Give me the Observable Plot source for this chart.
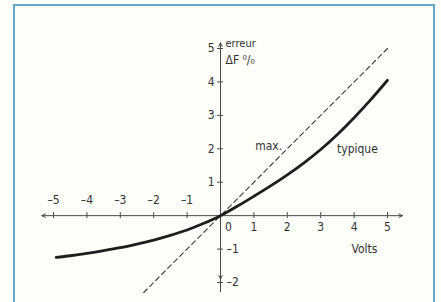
<!DOCTYPE html>
<html>
<head>
<meta charset="utf-8">
<script src="https://cdn.jsdelivr.net/npm/d3@7"></script>
<script src="https://cdn.jsdelivr.net/npm/@observablehq/plot@0.6"></script>
<style>
  html, body { margin: 0; padding: 0; background: #fdfdfa; }
  #wrap { position: relative; width: 441px; height: 302px; overflow: hidden; }
  #frame { position: absolute; left: 13px; top: 4px; width: 418px; height: 320px;
           border: 2px solid #62a9c9; pointer-events: none; }
</style>
</head>
<body>
<div id="wrap"><div id="frame"></div></div>
<script>
// Typical error curve (Volts -> error %)
const typVolts = [-4.92, -4.5, -4, -3.5, -3, -2.5, -2, -1.5, -1, -0.5, 0, 0.5, 1, 1.5, 2, 2.5, 3, 3.5, 4, 4.5, 5];
const typError = [-1.25, -1.2, -1.13, -1.05, -0.96, -0.85, -0.73, -0.59, -0.43, -0.23, 0, 0.28, 0.58, 0.89, 1.22, 1.58, 1.98, 2.43, 2.93, 3.47, 4.05];
// Maximum error line
const maxVolts = [-2.3, 5];
const maxError = [-2.3, 5];
// Tick values
const xTicksNeg = [-5, -4, -3, -2, -1];
const xTicksPos = [1, 2, 3, 4, 5];
const yTicksPos = [1, 2, 3, 4, 5];
const yTicksNeg = [-1, -2];

const typ = typVolts.map((v, i) => ({v, e: typError[i]}));
const mx = maxVolts.map((v, i) => ({v, e: maxError[i]}));

const font = '"Liberation Sans Narrow", "DejaVu Sans Condensed", "Roboto", sans-serif';
const ink = "#333333";
const axisC = "#4a4a4a";

const chart = Plot.plot({
  width: 441,
  height: 302,
  marginLeft: 53,
  marginRight: 54,
  marginTop: 48,
  marginBottom: 20,
  x: {domain: [-5, 5], axis: null},
  y: {domain: [-2, 5], axis: null},
  style: {background: "transparent", fontFamily: font, fontSize: "12px", color: ink},
  marks: [
    // axes with arrowheads
    Plot.arrow([{a: 0, b: 5.45}, {a: 0, b: -5.35}], {x1: "a", x2: "b", y1: 0, y2: 0, stroke: axisC, strokeWidth: 1, headLength: 6, headAngle: 50}),
    Plot.arrow([{a: 0, b: 5.17}], {x1: 0, x2: 0, y1: "a", y2: "b", stroke: axisC, strokeWidth: 1, headLength: 6, headAngle: 50}),
    Plot.arrow([{a: 0, b: -1.9}], {x1: 0, x2: 0, y1: "a", y2: "b", stroke: axisC, strokeWidth: 1, headLength: 6, headAngle: 50}),
    Plot.ruleX([0], {y1: -1.9, y2: -2.3, stroke: axisC, strokeWidth: 1}),
    // ticks
    Plot.ruleX(xTicksNeg.concat(xTicksPos), {y1: -0.09, y2: 0.09, stroke: axisC, strokeWidth: 1}),
    Plot.ruleY(yTicksPos.concat(yTicksNeg), {x1: -0.09, x2: 0.09, stroke: axisC, strokeWidth: 1}),
    // tick labels
    Plot.text(xTicksNeg, {x: d => d, y: 0, dy: -15, text: d => "–" + Math.abs(d), fill: ink, fontSize: 12}),
    Plot.text(xTicksPos, {x: d => d, y: 0, dy: 12, text: d => String(d), fill: ink, fontSize: 12}),
    Plot.text([0], {x: 0, y: 0, dx: 8, dy: 12, text: d => String(d), fill: ink, fontSize: 12}),
    Plot.text(yTicksPos, {x: 0, y: d => d, dx: -6, textAnchor: "end", text: d => String(d), fill: ink, fontSize: 12}),
    Plot.text(yTicksNeg, {x: 0, y: d => d, dx: 6, textAnchor: "start", text: d => "–" + Math.abs(d), fill: ink, fontSize: 12}),
    // data
    Plot.line(mx, {x: "v", y: "e", stroke: "#3a3a3a", strokeWidth: 1.1, strokeDasharray: "5,3.5"}),
    Plot.line(typ, {x: "v", y: "e", stroke: "#1e1e1e", strokeWidth: 2.8, curve: "catmull-rom"}),
    // annotations
    Plot.text(["erreur"], {x: 0, y: 5.15, dx: 5, textAnchor: "start", text: d => d, fill: ink, fontSize: 11}),
    Plot.text(["ΔF ⁰/₀"], {x: 0, y: 4.64, dx: 5, textAnchor: "start", text: d => d, fill: ink, fontSize: 12}),
    Plot.text(["max."], {x: 1.44, y: 2.07, text: d => d, fill: ink, fontSize: 12}),
    Plot.text(["typique"], {x: 4.1, y: 2.0, text: d => d, fill: ink, fontSize: 12}),
    Plot.text(["Volts"], {x: 4.31, y: -0.99, text: d => d, fill: ink, fontSize: 12})
  ]
});
document.getElementById("wrap").prepend(chart);
</script>
</body>
</html>
